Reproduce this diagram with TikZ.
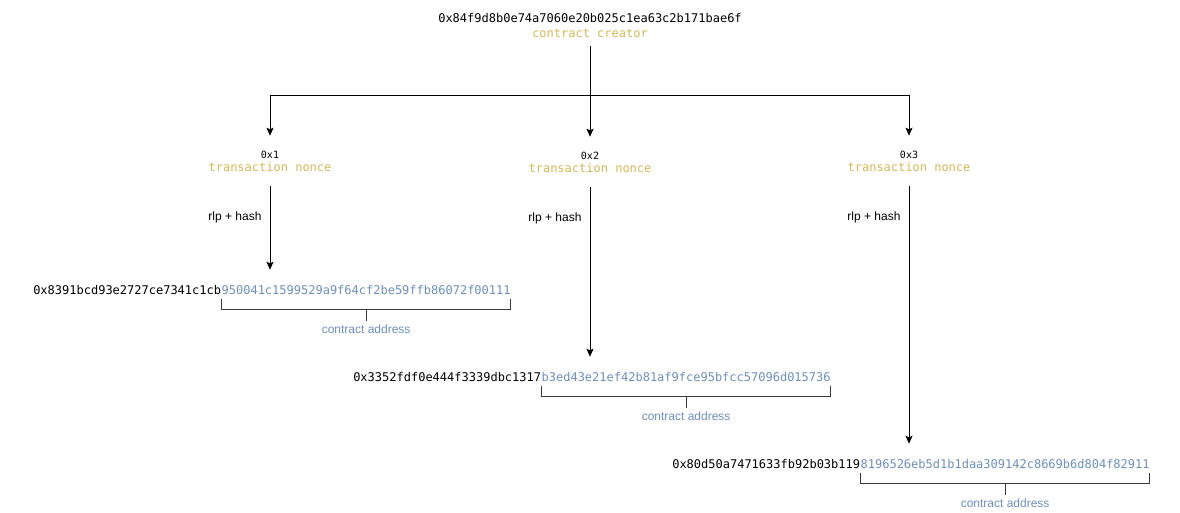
\documentclass[tikz,border=0pt]{standalone}
\usepackage{fontspec}
\setmainfont{Liberation Sans}
\setmonofont{DejaVu Sans Mono}
\usetikzlibrary{arrows.meta,calc,positioning}
\definecolor{noncegold}{HTML}{D6B656}
\definecolor{addrblue}{HTML}{6C8EBF}
\definecolor{bracketgray}{HTML}{36393D}

\begin{document}
\begin{tikzpicture}[
		x=0.75pt, y=-0.75pt,
		>={Stealth[length=6pt,width=5.25pt,inset=1.2pt]},
		flow/.style={->, line width=0.75pt},
		hashtext/.style={font=\ttfamily\fontsize{9}{11}\selectfont, inner sep=0pt, align=center},
		noncebox/.style={font=\ttfamily\fontsize{9}{9.75}\selectfont, inner sep=0pt,
				minimum height=37.5pt, align=center},
		addr/.style={font=\ttfamily\fontsize{9}{10.5}\selectfont, inner sep=0pt, minimum height=30pt},
		keypart/.style={font=\ttfamily\fontsize{9}{10.5}\selectfont, inner sep=0pt, text=addrblue},
		bracket/.style={draw=bracketgray, line width=0.75pt},
		addrlabel/.style={font=\fontsize{9}{10.5}\selectfont, text=addrblue, inner sep=1.5pt},
		steplabel/.style={font=\fontsize{9}{10.5}\selectfont, inner sep=0pt},
	]
	\useasboundingbox (0,0) rectangle (1180,513);

	\node[hashtext, minimum height=30pt] (creator) at (590,25.5)
	{0x84f9d8b0e74a7060e20b025c1ea63c2b171bae6f\\\textcolor{noncegold}{contract creator}};

	\node[noncebox] (nonce1) at (270,161)
	{{\fontsize{7.5}{9}\selectfont 0x1}\\\textcolor{noncegold}{transaction nonce}};
	\node[noncebox] (nonce2) at (590,162)
	{{\fontsize{7.5}{9}\selectfont 0x2}\\\textcolor{noncegold}{transaction nonce}};
	\node[noncebox] (nonce3) at (909,161)
	{{\fontsize{7.5}{9}\selectfont 0x3}\\\textcolor{noncegold}{transaction nonce}};

	\coordinate (fork) at (590,96);
	\draw[flow] (creator) -- (nonce2);
	\draw[line width=0.75pt] (creator.south) -- (fork);
	\draw[flow] (fork) -| (nonce1);
	\draw[flow] (fork) -| (nonce3);

	\node[addr, anchor=west] (addr1) at (33,290) {0x8391bcd93e2727ce7341c1cb};
	\node[keypart, anchor=base west] (key1) at (addr1.base east) {950041c1599529a9f64cf2be59ffb86072f00111};
	\node[addr, anchor=west] (addr2) at (353,377) {0x3352fdf0e444f3339dbc1317};
	\node[keypart, anchor=base west] (key2) at (addr2.base east) {b3ed43e21ef42b81af9fce95bfcc57096d015736};
	\node[addr, anchor=west] (addr3) at (672,464) {0x80d50a7471633fb92b03b119};
	\node[keypart, anchor=base west] (key3) at (addr3.base east) {8196526eb5d1b1daa309142c8669b6d804f82911};

	\draw[flow] (nonce1) -- (nonce1 |- addr1.north)
	node[at start, steplabel, anchor=east, xshift=-6pt, yshift=-23.5pt] (rlp1) {rlp + hash};
	\draw[flow] (nonce2) -- (nonce2 |- addr2.north)
	node[at start, steplabel, anchor=east, xshift=-6pt, yshift=-23.5pt] (rlp2) {rlp + hash};
	\draw[flow] (nonce3) -- (nonce3 |- addr3.north)
	node[at start, steplabel, anchor=east, xshift=-6pt, yshift=-23.5pt] (rlp3) {rlp + hash};

	% brackets under the last 20 bytes
	\draw[bracket] ($(key1.south west)+(0,4)$) -- ++(0,11) -| ($(key1.south east)+(0,4)$);
	\coordinate (mid1) at ($(key1.south west)!0.5!(key1.south east)+(0,15)$);
	\node[addrlabel, below=9.5pt of mid1] (lbl1) {contract address};
	\draw[bracket] (mid1) -- ++(0,11);

	\draw[bracket] ($(key2.south west)+(0,4)$) -- ++(0,11) -| ($(key2.south east)+(0,4)$);
	\coordinate (mid2) at ($(key2.south west)!0.5!(key2.south east)+(0,15)$);
	\node[addrlabel, below=9.5pt of mid2] (lbl2) {contract address};
	\draw[bracket] (mid2) -- ++(0,11);

	\draw[bracket] ($(key3.south west)+(0,4)$) -- ++(0,11) -| ($(key3.south east)+(0,4)$);
	\coordinate (mid3) at ($(key3.south west)!0.5!(key3.south east)+(0,15)$);
	\node[addrlabel, below=9.5pt of mid3] (lbl3) {contract address};
	\draw[bracket] (mid3) -- ++(0,11);

\end{tikzpicture}
\end{document}
